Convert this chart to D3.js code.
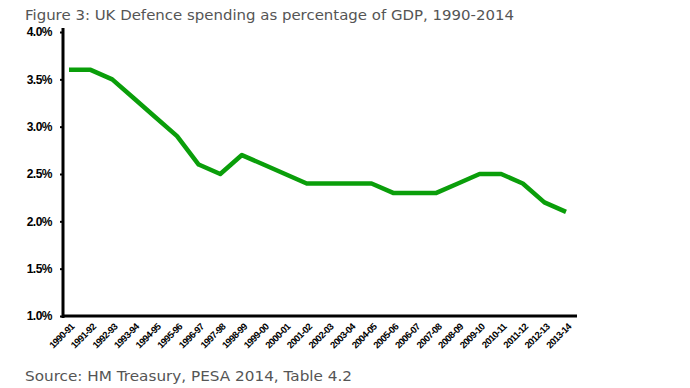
<!DOCTYPE html>
<html>
<head>
<meta charset="utf-8">
<script src="https://cdn.jsdelivr.net/npm/d3@7"></script>
<style>
  body { margin: 0; background: #fff; }
  svg { display: block; }
</style>
</head>
<body>
<div id="chart"></div>
<script>
// data
const years = ['1990-91', '1991-92', '1992-93', '1993-94', '1994-95', '1995-96', '1996-97',
    '1997-98', '1998-99', '1999-00', '2000-01', '2001-02', '2002-03', '2003-04', '2004-05',
    '2005-06', '2006-07', '2007-08', '2008-09', '2009-10', '2010-11', '2011-12', '2012-13', '2013-14'];
const spending = [3.6, 3.6, 3.5, 3.3, 3.1, 2.9, 2.6, 2.5, 2.7, 2.6, 2.5, 2.4, 2.4, 2.4, 2.4,
    2.3, 2.3, 2.3, 2.4, 2.5, 2.5, 2.4, 2.2, 2.1];
const yTicks = [1.0, 1.5, 2.0, 2.5, 3.0, 3.5, 4.0];

const W = 690, H = 388;
const svg = d3.select('#chart').append('svg').attr('width', W).attr('height', H);

const x = d3.scalePoint().domain(years).range([69, 566]);
const y = d3.scaleLinear().domain([1, 4]).range([316, 32]);

// title + source
svg.append('text')
    .attr('x', 25).attr('y', 20)
    .attr('textLength', 489).attr('lengthAdjust', 'spacingAndGlyphs')
    .style('font-family', 'DejaVu Sans, Verdana, sans-serif')
    .style('font-size', '14px')
    .style('fill', '#555')
    .text('Figure 3: UK Defence spending as percentage of GDP, 1990-2014');

svg.append('text')
    .attr('x', 25).attr('y', 381)
    .attr('textLength', 327).attr('lengthAdjust', 'spacingAndGlyphs')
    .style('font-family', 'DejaVu Sans, Verdana, sans-serif')
    .style('font-size', '14px')
    .style('fill', '#555')
    .text('Source: HM Treasury, PESA 2014, Table 4.2');

// y axis
const yAxis = svg.append('g')
    .attr('transform', 'translate(63,0)')
    .call(d3.axisLeft(y).tickValues(yTicks).tickFormat(d => d.toFixed(1) + '%').tickSize(3).tickPadding(8));
yAxis.select('.domain').remove();
yAxis.selectAll('.tick line').style('stroke', '#000').style('stroke-width', 2);
yAxis.selectAll('text')
    .style('font-family', 'Liberation Sans, Arial, sans-serif')
    .style('font-weight', 'bold')
    .style('font-size', '12px')
    .style('letter-spacing', '-0.5px')
    .style('fill', '#000');

// x axis labels
const xAxis = svg.append('g')
    .attr('transform', 'translate(0,316)')
    .call(d3.axisBottom(x).tickSize(0).tickPadding(0));
xAxis.select('.domain').remove();
xAxis.selectAll('text')
    .attr('transform', 'translate(3,9) rotate(-45)')
    .attr('dy', '0.35em')
    .attr('x', 0).attr('y', 0)
    .style('text-anchor', 'end')
    .style('font-family', 'Liberation Sans, Arial, sans-serif')
    .style('font-weight', 'bold')
    .style('font-size', '9.5px')
    .style('letter-spacing', '-0.6px')
    .style('fill', '#000');

// axis lines
svg.append('line')
    .attr('x1', 63).attr('x2', 63).attr('y1', 28).attr('y2', 318)
    .style('stroke', '#000').style('stroke-width', 3);
svg.append('line')
    .attr('x1', 62).attr('x2', 577).attr('y1', 316).attr('y2', 316)
    .style('stroke', '#000').style('stroke-width', 3);

// line
const line = d3.line()
    .x((d, i) => x(years[i]))
    .y(d => y(d));

svg.append('path')
    .datum(spending)
    .attr('d', line)
    .style('fill', 'none')
    .style('stroke', '#0a9e0a')
    .style('stroke-width', 4.5)
    .style('stroke-linejoin', 'round');
</script>
</body>
</html>
